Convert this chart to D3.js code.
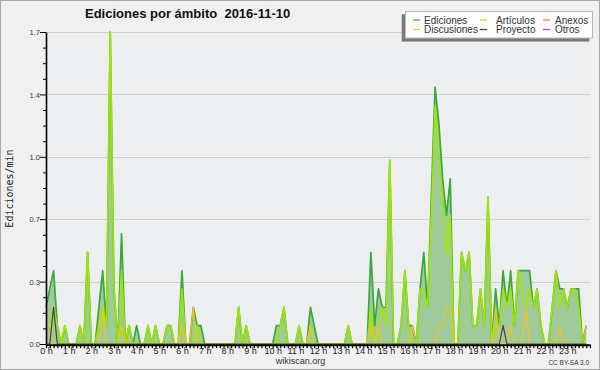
<!DOCTYPE html>
<html>
<head>
<meta charset="utf-8">
<script src="https://cdn.jsdelivr.net/npm/d3@7"></script>
<style>
  html, body { margin: 0; padding: 0; background: #f0f0f0; }
  svg { display: block; font-family: "Liberation Sans", Arial, sans-serif; }
</style>
</head>
<body>
<div id="chart"></div>
<script>
// Edits counted per 10-minute bin, one row = one hour (6 bins)
const ediciones = [
  2,3,4,1,0,1,   0,0,0,1,0,5,   0,0,2,4,1,17,  3,0,6,0,1,0,
  1,0,0,1,0,1,   0,0,1,1,0,0,   4,0,0,2,1,1,   0,0,0,0,0,0,
  0,0,0,2,0,1,   0,0,0,0,0,0,   0,1,1,2,0,0,   0,1,0,0,2,1,
  0,0,0,0,0,0,   0,0,1,0,0,0,   0,0,5,1,3,2,   2,10,0,0,1,4,
  1,1,0,3,5,2,   8,14,12,9,7,9, 0,0,5,4,5,1,   1,3,1,8,0,3,
  1,4,2,4,1,4,   4,4,4,2,3,1,   0,0,2,4,3,3,   2,3,3,3,0,1
];
const articulos = [
  1,1,2,1,0,1,   0,0,0,1,0,5,   0,0,1,2,1,17,  3,0,4,0,1,0,
  0,0,0,1,0,1,   0,0,1,1,0,0,   3,0,0,0,1,0,   0,0,0,0,0,0,
  0,0,0,2,0,1,   0,0,0,0,0,0,   0,0,1,2,0,0,   0,1,0,0,1,0,
  0,0,0,0,0,0,   0,0,1,0,0,0,   0,0,2,0,1,2,   1,10,0,0,1,4,
  1,0,0,3,3,2,   7,13,10,8,5,7, 0,0,5,4,5,1,   1,3,1,8,0,1,
  1,3,2,3,1,4,   3,2,3,2,3,1,   0,0,2,4,2,3,   2,3,3,2,0,0
];
const discusiones = [
  1,1,0,0,0,0,   0,0,0,0,0,0,   0,0,0,2,0,0,   0,0,1,0,0,0,
  0,0,0,0,0,0,   0,0,0,0,0,0,   1,0,0,2,0,0,   0,0,0,0,0,0,
  0,0,0,0,0,0,   0,0,0,0,0,0,   0,0,0,0,0,0,   0,0,0,0,1,0,
  0,0,0,0,0,0,   0,0,0,0,0,0,   0,0,1,0,1,0,   0,0,0,0,0,0,
  0,1,0,0,0,0,   0,0,1,1,2,2,   0,0,0,0,0,0,   0,0,0,0,0,2,
  0,0,0,1,0,0,   0,2,0,0,0,0,   0,0,0,0,1,0,   0,0,0,0,0,1
];
const proyecto = [
  0,0,2,0,0,0,   0,0,0,0,0,0,   0,0,0,0,0,0,   0,0,0,0,0,0,
  0,0,0,0,0,0,   0,0,0,0,0,0,   0,0,0,0,0,0,   0,0,0,0,0,0,
  0,0,0,0,0,0,   0,0,0,0,0,0,   0,0,0,0,0,0,   0,0,0,0,0,0,
  0,0,0,0,0,0,   0,0,0,0,0,0,   0,0,0,0,0,0,   0,0,0,0,0,0,
  0,0,0,0,0,0,   0,0,0,0,0,0,   0,0,0,0,0,0,   0,0,0,0,0,0,
  0,1,0,0,0,0,   0,0,0,0,0,0,   0,0,0,0,0,0,   0,0,0,0,0,0
];
const anexos = [];
const otros = [];

const legendNames = ["Ediciones", "Artículos", "Anexos", "Discusiones", "Proyecto", "Otros"];
const hourLabels = ["0 h","1 h","2 h","3 h","4 h","5 h","6 h","7 h","8 h","9 h","10 h","11 h",
  "12 h","13 h","14 h","15 h","16 h","17 h","18 h","19 h","20 h","21 h","22 h","23 h"];
const yTicks = [0, 0.34, 0.68, 1.02, 1.36, 1.7];

const W = 600, H = 370;
const plot = { left: 46, right: 590, top: 32, bottom: 344 };
const binMinutes = 10;

const COLORS = {
  Ediciones: "#3aa83a",
  "Artículos": "#a2e600",
  Anexos: "#ff7733",
  Discusiones: "#f5c21b",
  Proyecto: "#444444",
  Otros: "#9944ff"
};

const svg = d3.select("#chart").append("svg")
  .attr("width", W).attr("height", H);

// background + frame
svg.append("rect").attr("x", 0.5).attr("y", 0.5)
  .attr("width", W - 1).attr("height", H - 1)
  .attr("fill", "#f0f0f0").attr("stroke", "#a8a8a8");

svg.append("rect")
  .attr("x", plot.left).attr("y", plot.top)
  .attr("width", plot.right - plot.left).attr("height", plot.bottom - plot.top)
  .attr("fill", "#eceef0");

const x = d3.scaleLinear().domain([0, 24 * 60]).range([plot.left, plot.right]);
const y = d3.scaleLinear().domain([0, 1.7]).range([plot.bottom, plot.top]);

// per-minute rate from a 10-minute count
const rate = c => c / binMinutes;

// grid
svg.append("g").selectAll("line")
  .data(yTicks.slice(1))
  .join("line")
  .attr("x1", plot.left).attr("x2", plot.right)
  .attr("y1", d => Math.round(y(d)) + 0.5).attr("y2", d => Math.round(y(d)) + 0.5)
  .attr("stroke", "#cfcfcf");

// total area
const area = d3.area()
  .x((d, i) => x(i * binMinutes))
  .y0(y(0))
  .y1(d => y(rate(d)));

svg.append("path")
  .datum(ediciones)
  .attr("d", area)
  .attr("fill", "#9fcb9b");

const line = d3.line()
  .x((d, i) => x(i * binMinutes))
  .y(d => y(rate(d)));

const drawn = [
  { name: "Ediciones", data: ediciones, w: 1.7 },
  { name: "Artículos", data: articulos, w: 1.6 },
  { name: "Anexos", data: anexos, w: 1.2 },
  { name: "Discusiones", data: discusiones, w: 1.2 },
  { name: "Proyecto", data: proyecto, w: 1.2 },
  { name: "Otros", data: otros, w: 1.2 }
];

drawn.filter(s => s.data.length).forEach(s => {
  svg.append("path")
    .datum(s.data)
    .attr("d", line)
    .attr("fill", "none")
    .attr("stroke", COLORS[s.name])
    .attr("stroke-width", s.w)
    .attr("stroke-linejoin", "round");
});

// y axis
const yAxis = svg.append("g")
  .attr("transform", `translate(${plot.left},0)`)
  .call(d3.axisLeft(y).tickValues(yTicks).tickFormat(d3.format(".1f")).tickSize(6).tickSizeOuter(0));

const minor = d3.range(0, 21).map(i => i * 0.085).filter((d, i) => i % 4 !== 0);
svg.append("g")
  .attr("transform", `translate(${plot.left},0)`)
  .call(d3.axisLeft(y).tickValues(minor).tickFormat("").tickSize(3).tickSizeOuter(0))
  .call(g => g.select(".domain").remove());

yAxis.select(".domain").attr("stroke", "#000").attr("stroke-width", 1.6);
yAxis.selectAll(".tick text")
  .attr("x", -6).attr("dy", "0.35em")
  .attr("font-family", "Liberation Sans, Arial, sans-serif")
  .attr("font-size", 7.5).attr("fill", "#333");

// x axis: a tick for every 10 minutes, label each hour
const xAxis = svg.append("g")
  .attr("transform", `translate(0,${plot.bottom + 0.7})`)
  .call(d3.axisBottom(x)
    .tickValues(d3.range(0, 24 * 60 + 1, binMinutes))
    .tickFormat(m => (m % 60 === 0 && m < 24 * 60) ? hourLabels[m / 60] : "")
    .tickSize(3.5).tickSizeOuter(0));

xAxis.select(".domain").attr("stroke", "#000").attr("stroke-width", 2);
xAxis.selectAll(".tick line").attr("stroke", "#000").attr("stroke-width", 1.2);
xAxis.selectAll(".tick text")
  .attr("y", 3).attr("dy", "0.71em")
  .attr("font-family", "Liberation Sans, Arial, sans-serif")
  .attr("font-size", 9).attr("fill", "#222");

// y axis title
svg.append("text")
  .attr("transform", "translate(12.5,188.5) rotate(-90)")
  .attr("text-anchor", "middle")
  .attr("font-family", "DejaVu Sans Mono, Liberation Mono, monospace")
  .attr("font-size", 10)
  .attr("fill", "#222")
  .text("Ediciones/min");

// title
svg.append("text")
  .attr("x", 85).attr("y", 18)
  .attr("font-size", 13).attr("font-weight", "bold")
  .attr("fill", "#111")
  .style("white-space", "pre")
  .text("Ediciones por ámbito  2016-11-10");

// footer
svg.append("text")
  .attr("x", 300.5).attr("y", 364)
  .attr("text-anchor", "middle")
  .attr("font-size", 9).attr("fill", "#333")
  .text("wikiscan.org");

svg.append("text")
  .attr("x", 589).attr("y", 365)
  .attr("text-anchor", "end")
  .attr("font-size", 6.5).attr("fill", "#333")
  .text("CC BY-SA 3.0");

// legend
const legend = svg.append("g");
legend.append("rect")
  .attr("x", 401.7).attr("y", 14.3).attr("width", 187.7).attr("height", 27.3)
  .attr("fill", "#7a7a7a");
legend.append("rect")
  .attr("x", 405.5).attr("y", 11.5).attr("width", 187).attr("height", 26.5)
  .attr("fill", "#fdfdfd").attr("stroke", "#b8b8b8");

const colLineX = [413, 480, 543];
const colTextX = [424, 496, 555];
const rowY = [20, 29.5];

legendNames.forEach((name, i) => {
  const c = i % 3, r = Math.floor(i / 3);
  legend.append("line")
    .attr("x1", colLineX[c]).attr("x2", colLineX[c] + 7)
    .attr("y1", rowY[r]).attr("y2", rowY[r])
    .attr("stroke", COLORS[name]).attr("stroke-width", 1.2);
  legend.append("text")
    .attr("x", colTextX[c]).attr("y", rowY[r] + 3.5)
    .attr("font-size", 10).attr("fill", "#333")
    .text(name);
});
</script>
</body>
</html>
